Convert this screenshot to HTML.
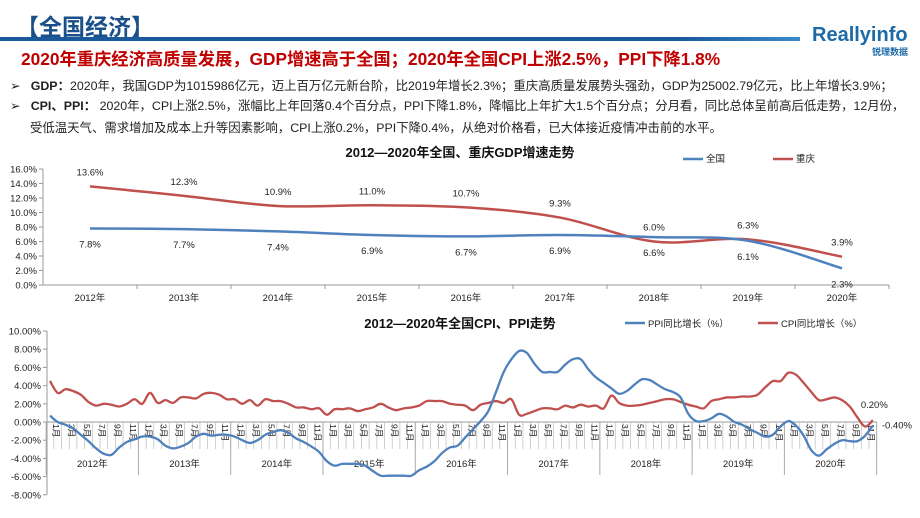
<!DOCTYPE html>
<html><head><meta charset="utf-8">
<style>
body{margin:0;width:920px;height:518px;overflow:hidden;background:#fff;font-family:"Liberation Sans","Noto Sans CJK SC",sans-serif;position:relative}
.abs{position:absolute;white-space:nowrap}
.b{font-size:12.4px;color:#222;line-height:21px}
</style></head><body>
<div class="abs" style="left:16px;top:8px;font-size:23px;font-weight:bold;color:#1a4f8a;letter-spacing:0px">【全国经济】</div>
<div class="abs" style="left:0;top:37px;width:800px;height:4px;background:linear-gradient(90deg,#1a5a9c 0%,#1a5a9c 85%,#3a8ad0 100%)"></div>
<div class="abs" style="left:812px;top:24px;font-size:20px;font-weight:bold;color:#1c6aa8">Reallyinfo</div>
<div class="abs" style="left:872px;top:45px;font-size:9px;font-weight:bold;color:#1c6aa8">锐理数据</div>
<div class="abs" style="left:21px;top:45px;font-size:17.3px;font-weight:bold;color:#c00000">2020年重庆经济高质量发展，GDP增速高于全国；2020年全国CPI上涨2.5%，PPI下降1.8%</div>
<div class="abs b" style="left:10px;top:76px">➢&nbsp;&nbsp;&nbsp;<b>GDP：</b>2020年，我国GDP为1015986亿元，迈上百万亿元新台阶，比2019年增长2.3%；重庆高质量发展势头强劲，GDP为25002.79亿元，比上年增长3.9%；</div>
<div class="abs b" style="left:10px;top:96px">➢&nbsp;&nbsp;&nbsp;<b>CPI、PPI：</b> 2020年，CPI上涨2.5%，涨幅比上年回落0.4个百分点，PPI下降1.8%，降幅比上年扩大1.5个百分点；分月看，同比总体呈前高后低走势，12月份，</div>
<div class="abs b" style="left:30px;top:118px">受低温天气、需求增加及成本上升等因素影响，CPI上涨0.2%，PPI下降0.4%，从绝对价格看，已大体接近疫情冲击前的水平。</div>

<svg id="g1" class="abs" style="left:0;top:140px" width="920" height="170"></svg>
<svg id="g2" class="abs" style="left:0;top:310px" width="920" height="208"></svg>

<script>
const gdpYears=["2012年","2013年","2014年","2015年","2016年","2017年","2018年","2019年","2020年"];
const gdpNational=[7.8,7.7,7.4,6.9,6.7,6.9,6.6,6.1,2.3];
const gdpChongqing=[13.6,12.3,10.9,11.0,10.7,9.3,6.0,6.3,3.9];
const gdpTicks=[0,2,4,6,8,10,12,14,16];

const cpiYears=["2012年","2013年","2014年","2015年","2016年","2017年","2018年","2019年","2020年"];
const cpiValues=[4.5,3.2,3.6,3.4,3.0,2.2,1.8,2.0,1.9,1.7,2.0,2.5, 2.0,3.2,2.1,2.4,2.1,2.7,2.7,2.6,3.1,3.2,3.0,2.5, 2.5,2.0,2.4,1.8,2.5,2.3,2.3,2.0,1.6,1.6,1.4,1.5, 0.8,1.4,1.4,1.5,1.2,1.4,1.6,2.0,1.6,1.3,1.5,1.6, 1.8,2.3,2.3,2.3,2.0,1.9,1.8,1.3,1.9,2.1,2.3,2.1, 2.5,0.8,0.9,1.2,1.5,1.5,1.4,1.8,1.6,1.9,1.7,1.8, 1.5,2.9,2.1,1.8,1.8,1.9,2.1,2.3,2.5,2.5,2.2,1.9, 1.7,1.5,2.3,2.5,2.7,2.7,2.8,2.8,3.0,3.8,4.5,4.5, 5.4,5.2,4.3,3.3,2.4,2.5,2.7,2.4,1.7,0.5,-0.5,0.2];
const ppiValues=[0.7,0.0,-0.3,-0.7,-1.4,-2.1,-2.9,-3.5,-3.6,-2.8,-2.2,-1.9, -1.6,-1.6,-1.9,-2.6,-2.9,-2.7,-2.3,-1.6,-1.3,-1.5,-1.4,-1.4, -1.6,-2.0,-2.3,-2.0,-1.4,-1.1,-0.9,-1.2,-1.8,-2.2,-2.7,-3.3, -4.3,-4.8,-4.6,-4.6,-4.6,-4.8,-5.4,-5.9,-5.9,-5.9,-5.9,-5.9, -5.3,-4.9,-4.3,-3.4,-2.8,-2.6,-1.7,-0.8,0.1,1.2,3.3,5.5, 6.9,7.8,7.6,6.4,5.5,5.5,5.5,6.3,6.9,6.9,5.8,4.9, 4.3,3.7,3.1,3.4,4.1,4.7,4.6,4.1,3.6,3.3,2.7,0.9, 0.1,0.1,0.4,0.9,0.6,0.0,-0.3,-0.8,-1.2,-1.6,-1.4,-0.5, 0.1,-0.4,-1.5,-3.1,-3.7,-3.0,-2.4,-2.0,-2.1,-2.1,-1.5,-0.4];
const cpiTicks=[-8,-6,-4,-2,0,2,4,6,8,10];
const monthLabels=["1月","3月","5月","7月","9月","11月"];

const NS="http://www.w3.org/2000/svg";
function mk(svg,tag,attrs,text){const e=document.createElementNS(NS,tag);for(const k in attrs)e.setAttribute(k,attrs[k]);if(text!==undefined)e.textContent=text;svg.appendChild(e);return e;}
function smooth(pts){let d="M"+pts[0][0]+","+pts[0][1];for(let i=0;i<pts.length-1;i++){const p0=pts[i-1]||pts[i],p1=pts[i],p2=pts[i+1],p3=pts[i+2]||p2;const t=0.17;d+=" C"+(p1[0]+(p2[0]-p0[0])*t)+","+(p1[1]+(p2[1]-p0[1])*t)+" "+(p2[0]-(p3[0]-p1[0])*t)+","+(p2[1]-(p3[1]-p1[1])*t)+" "+p2[0]+","+p2[1];}return d;}
const F='font-family:"Liberation Sans","Noto Sans CJK SC",sans-serif';

// GDP chart
(function(){
const s=document.getElementById('g1');
const x0=43,bw=94,yb=145,ppu=7.25;
const X=i=>x0+bw/2+i*bw, Y=v=>yb-v*ppu;
let t=mk(s,'text',{x:460,y:17,'text-anchor':'middle','font-size':13,'font-weight':'bold',fill:'#111',style:F},'2012—2020年全国、重庆GDP增速走势');

mk(s,'line',{x1:x0,y1:Y(16),x2:x0,y2:yb,stroke:'#999'});
mk(s,'line',{x1:x0,y1:yb,x2:x0+9*bw,y2:yb,stroke:'#999'});
gdpTicks.forEach(v=>{mk(s,'line',{x1:x0-4,y1:Y(v),x2:x0,y2:Y(v),stroke:'#999'});
 const e=mk(s,'text',{x:x0-6,y:Y(v)+3.5,'text-anchor':'end','font-size':9.5,fill:'#222',style:F},v.toFixed(1)+'%');});
gdpYears.forEach((c,i)=>{mk(s,'line',{x1:x0+(i+1)*bw,y1:yb,x2:x0+(i+1)*bw,y2:yb+4,stroke:'#999'});
 const e=mk(s,'text',{x:X(i),y:yb+16,'text-anchor':'middle','font-size':9.5,fill:'#222',style:F},c);});
const pr=mk(s,'path',{d:smooth(gdpChongqing.map((v,i)=>[X(i),Y(v)])),fill:'none',stroke:'#c0504d','stroke-width':2.5});

const pb=mk(s,'path',{d:smooth(gdpNational.map((v,i)=>[X(i),Y(v)])),fill:'none',stroke:'#4f81bd','stroke-width':2.5});

gdpChongqing.forEach((v,i)=>{const e=mk(s,'text',{x:X(i),y:Y(v)-11,'text-anchor':'middle','font-size':9.5,fill:'#222',style:F},v.toFixed(1)+'%');});
gdpNational.forEach((v,i)=>{const e=mk(s,'text',{x:X(i),y:Y(v)+19,'text-anchor':'middle','font-size':9.5,fill:'#222',style:F},v.toFixed(1)+'%');});
mk(s,'line',{x1:683,y1:19,x2:703,y2:19,stroke:'#4f81bd','stroke-width':2.5});
let l=mk(s,'text',{x:706,y:22,'font-size':9.5,fill:'#222',style:F},'全国');
mk(s,'line',{x1:773,y1:19,x2:793,y2:19,stroke:'#c0504d','stroke-width':2.5});
l=mk(s,'text',{x:796,y:22,'font-size':9.5,fill:'#222',style:F},'重庆');
})();

// CPI/PPI chart
(function(){
const s=document.getElementById('g2');
const x0=47,y0=112,ppu=9.1,mw=7.69,mx0=50;
const Y=v=>y0-v*ppu, X=i=>mx0+i*mw;
let t=mk(s,'text',{x:460,y:18,'text-anchor':'middle','font-size':13,'font-weight':'bold',fill:'#111',style:F},'2012—2020年全国CPI、PPI走势');

mk(s,'line',{x1:x0,y1:Y(10),x2:x0,y2:Y(-8),stroke:'#999'});
cpiTicks.forEach(v=>{mk(s,'line',{x1:x0-4,y1:Y(v),x2:x0,y2:Y(v),stroke:'#999'});
 const e=mk(s,'text',{x:x0-6,y:Y(v)+3.5,'text-anchor':'end','font-size':9.5,fill:'#222',style:F},v.toFixed(2)+'%');});
const n=cpiValues.length;
const xEnd=X(n-1)+mw/2;
mk(s,'line',{x1:x0,y1:y0,x2:xEnd,y2:y0,stroke:'#999'});
for(let i=0;i<n;i++){mk(s,'line',{x1:X(i)+mw/2,y1:y0,x2:X(i)+mw/2,y2:y0+27,stroke:'#bbb','stroke-width':0.7});
 if(i%2===0){const e=mk(s,'text',{transform:`translate(${X(i)+3},${y0+2}) rotate(90)`,'font-size':8.5,fill:'#222',style:F},monthLabels[(i%12)/2]);}}
cpiYears.forEach((c,k)=>{const xs=X(k*12)-mw/2;mk(s,'line',{x1:xs,y1:y0,x2:xs,y2:y0+53,stroke:'#aaa'});
 const e=mk(s,'text',{x:xs+6*mw,y:y0+45,'text-anchor':'middle','font-size':9.5,fill:'#222',style:F},c);});
mk(s,'line',{x1:xEnd,y1:y0,x2:xEnd,y2:y0+53,stroke:'#aaa'});
const pr=mk(s,'path',{d:smooth(cpiValues.map((v,i)=>[X(i),Y(v)])),fill:'none',stroke:'#c0504d','stroke-width':2.3});

const pb=mk(s,'path',{d:smooth(ppiValues.map((v,i)=>[X(i),Y(v)])),fill:'none',stroke:'#4f81bd','stroke-width':2.3});

let e=mk(s,'text',{x:X(n-1)-12,y:Y(cpiValues[n-1])-12,'font-size':9.5,fill:'#222',style:F},cpiValues[n-1].toFixed(2)+'%');
e=mk(s,'text',{x:X(n-1)+9,y:Y(ppiValues[n-1])+3,'font-size':9.5,fill:'#222',style:F},ppiValues[n-1].toFixed(2)+'%');
mk(s,'line',{x1:625,y1:13,x2:645,y2:13,stroke:'#4f81bd','stroke-width':2.5});
e=mk(s,'text',{x:648,y:17,'font-size':9.5,fill:'#222',style:F},'PPI同比增长（%）');
mk(s,'line',{x1:758,y1:13,x2:778,y2:13,stroke:'#c0504d','stroke-width':2.5});
e=mk(s,'text',{x:781,y:17,'font-size':9.5,fill:'#222',style:F},'CPI同比增长（%）');
})();
</script>
</body></html>
